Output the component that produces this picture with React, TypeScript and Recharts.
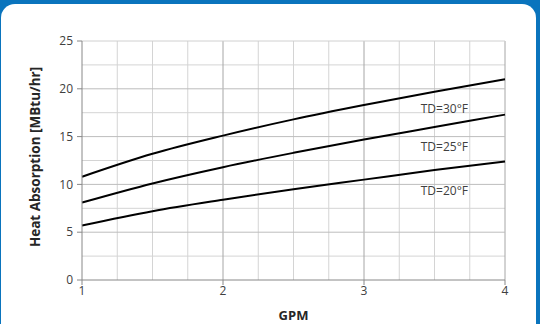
import React from 'react';
import { LineChart, Line, XAxis, YAxis, ReferenceLine, ReferenceDot, Label } from 'recharts';

const gpm = [1, 1.5, 2, 2.5, 3, 3.5, 4];
const td30 = [10.8, 13.2, 15.1, 16.8, 18.3, 19.7, 21.0];
const td25 = [8.1, 10.1, 11.8, 13.3, 14.7, 16.0, 17.3];
const td20 = [5.7, 7.2, 8.4, 9.5, 10.5, 11.5, 12.4];

const xTicks = [1, 2, 3, 4];
const yTicks = [0, 5, 10, 15, 20, 25];
const xMinorGrid = [1.25, 1.5, 1.75, 2.25, 2.5, 2.75, 3.25, 3.5, 3.75];
const xMajorGrid = [2, 3, 4];
const yMinorGrid = [2.5, 7.5, 12.5, 17.5, 22.5];
const yMajorGrid = [5, 10, 15, 20, 25];

const seriesLabels = ['TD=30°F', 'TD=25°F', 'TD=20°F'];
const labelX = [3.57, 3.57, 3.57];
const labelY = [17.9, 13.9, 9.3];

const data = gpm.map((g, i) => ({ gpm: g, td30: td30[i], td25: td25[i], td20: td20[i] }));

const FONT = 'Open Sans, sans-serif';

export default function App() {
  return (
    <div style={{ position: 'absolute', left: 0, top: 0, width: 540, height: 324, background: '#0a74bd', overflow: 'hidden' }}>
      <div style={{ position: 'absolute', left: 1, top: 4, width: 535, height: 340, background: '#fff', borderRadius: 14 }} />
      <div style={{ position: 'absolute', left: 0, top: 0 }}>
        <LineChart width={540} height={324} data={data} margin={{ top: 41, right: 35, bottom: 0, left: 0 }}>
          {xMinorGrid.map((v) => (
            <ReferenceLine key={'xm' + v} x={v} stroke="#d4d4d4" strokeWidth={1} />
          ))}
          {yMinorGrid.map((v) => (
            <ReferenceLine key={'ym' + v} y={v} stroke="#d4d4d4" strokeWidth={1} />
          ))}
          {xMajorGrid.map((v) => (
            <ReferenceLine key={'xM' + v} x={v} stroke="#a6a6a6" strokeWidth={1} />
          ))}
          {yMajorGrid.map((v) => (
            <ReferenceLine key={'yM' + v} y={v} stroke={v === 25 ? '#d0d0d0' : '#bdbdbd'} strokeWidth={1} />
          ))}
          <XAxis
            dataKey="gpm"
            type="number"
            domain={[1, 4]}
            ticks={xTicks}
            height={44}
            tickSize={5}
            tickMargin={1}
            stroke="#888"
            tick={{ fill: '#404040', fontSize: 12, fontFamily: FONT }}
          >
            <Label value="GPM" position="insideBottom" offset={4} style={{ fill: '#262626', fontSize: 13, fontWeight: 'bold', fontFamily: FONT }} />
          </XAxis>
          <YAxis
            type="number"
            domain={[0, 25]}
            ticks={yTicks}
            width={82}
            tickSize={5}
            tickMargin={4}
            stroke="#888"
            tick={{ fill: '#404040', fontSize: 12, fontFamily: FONT }}
          >
            <Label
              content={() => (
                <text
                  x={35}
                  y={157}
                  transform="rotate(-90 35 157)"
                  textAnchor="middle"
                  dominantBaseline="central"
                  style={{ fill: '#262626', fontSize: 13.5, fontWeight: 'bold', fontFamily: FONT }}
                >
                  Heat Absorption [MBtu/hr]
                </text>
              )}
            />
          </YAxis>
          <Line type="monotone" dataKey="td30" stroke="#000" strokeWidth={2} dot={false} isAnimationActive={false} />
          <Line type="monotone" dataKey="td25" stroke="#000" strokeWidth={2} dot={false} isAnimationActive={false} />
          <Line type="monotone" dataKey="td20" stroke="#000" strokeWidth={2} dot={false} isAnimationActive={false} />
          {seriesLabels.map((t, i) => (
            <ReferenceDot
              key={t}
              x={labelX[i]}
              y={labelY[i]}
              r={0}
              fill="none"
              stroke="none"
              label={{ value: t, position: 'center', fill: '#404040', fontSize: 12, fontFamily: FONT }}
            />
          ))}
        </LineChart>
      </div>
    </div>
  );
}
